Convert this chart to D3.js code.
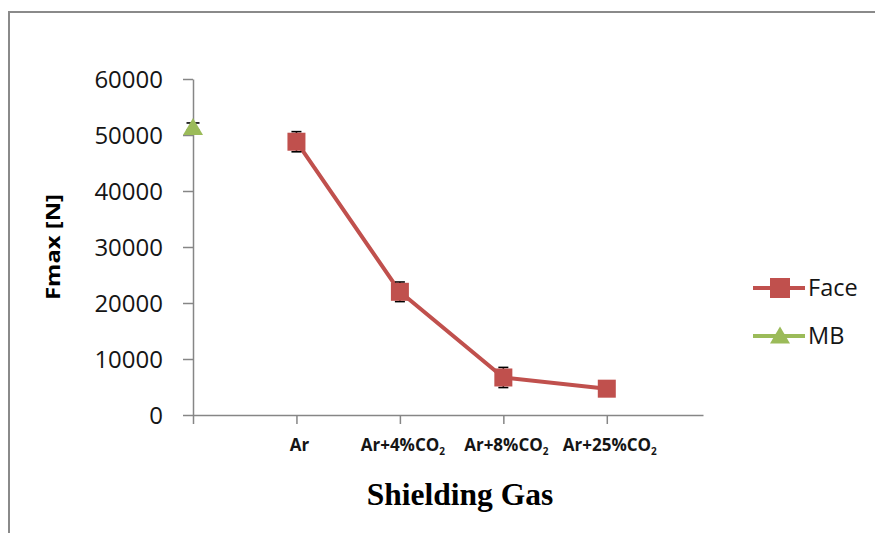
<!DOCTYPE html>
<html>
<head>
<meta charset="utf-8">
<script src="https://cdn.jsdelivr.net/npm/d3@7"></script>
<style>
  html, body { margin: 0; padding: 0; background: #fff; }
  svg { display: block; }
</style>
</head>
<body>
<svg id="chart" width="875" height="533"></svg>
<script>
// ---- data ----
const categories = ["Ar", "Ar+4%CO2", "Ar+8%CO2", "Ar+25%CO2"];
const faceValues = [48800, 22000, 6700, 4700];
const faceErrors = [1800, 1750, 1800, 0];
const mbValues = [51500];
const mbErrors = [650];
const yTicks = [0, 10000, 20000, 30000, 40000, 50000, 60000];
const seriesNames = ["Face", "MB"];
const colors = { Face: "#c0504d", MB: "#9bbb59" };

const svg = d3.select("#chart");

// frame
svg.append("rect")
  .attr("x", 9).attr("y", 12).attr("width", 900).attr("height", 600)
  .attr("fill", "none").attr("stroke", "#8a8a8a").attr("stroke-width", 2);

// scales: position 0 = MB (at the y axis), 1..4 = categories
const x = d3.scaleLinear().domain([0, 4.93]).range([193, 703]);
const y = d3.scaleLinear().domain([0, 60000]).range([415, 79]);

// y axis
const yAxis = svg.append("g").attr("transform", "translate(193,0)")
  .call(d3.axisLeft(y).tickValues(yTicks).tickSize(10).tickSizeOuter(0).tickPadding(20)
    .tickFormat(d3.format("d")));
yAxis.selectAll("path, line").attr("stroke", "#868686").attr("stroke-width", 1.5);
yAxis.selectAll("text")
  .attr("font-family", "'Open Sans', sans-serif").attr("font-size", 24)
  .attr("fill", "#151515").attr("dy", "0.35em");

// x axis
const xAxis = svg.append("g").attr("transform", "translate(0,415)")
  .call(d3.axisBottom(x).tickValues([0, 1, 2, 3, 4]).tickSize(9).tickSizeOuter(0)
    .tickFormat(""));
xAxis.selectAll("path, line").attr("stroke", "#868686").attr("stroke-width", 1.5);

// x category labels with subscript 2
categories.forEach((c, i) => {
  const t = svg.append("text")
    .attr("x", x(i + 1) + 3).attr("y", 451)
    .attr("text-anchor", "middle")
    .attr("font-family", "'Open Sans', sans-serif")
    .attr("font-weight", "bold").attr("font-size", 17).attr("fill", "#151515");
  const m = c.match(/^(.*CO)2$/);
  if (m) {
    t.append("tspan").text(m[1]);
    t.append("tspan").text("2").attr("font-size", 10).attr("dy", 4);
  } else {
    t.text(c);
  }
});

// y axis title
svg.append("text")
  .attr("transform", "translate(60,247) rotate(-90)")
  .attr("text-anchor", "middle")
  .attr("font-family", "'Open Sans', sans-serif").attr("font-weight", "bold")
  .attr("font-size", 20).attr("fill", "#000")
  .attr("textLength", 106).attr("lengthAdjust", "spacingAndGlyphs")
  .text("Fmax [N]");

// x axis title
svg.append("text")
  .attr("x", 460).attr("y", 505)
  .attr("text-anchor", "middle")
  .attr("font-family", "'Liberation Serif', 'Times New Roman', serif")
  .attr("font-weight", "bold").attr("font-size", 31.5).attr("fill", "#000")
  .text("Shielding Gas");

// Face line
const facePts = faceValues.map((v, i) => ({ x: i + 1, v, e: faceErrors[i] }));
svg.append("path")
  .datum(facePts)
  .attr("fill", "none").attr("stroke", colors.Face).attr("stroke-width", 4)
  .attr("stroke-linejoin", "round")
  .attr("d", d3.line().x(d => x(d.x)).y(d => y(d.v)));

// error bars (drawn under markers)
function errorBars(pts, half) {
  const g = svg.append("g").attr("stroke", "#000").attr("stroke-width", 1.6);
  pts.filter(d => d.e > 0).forEach(d => {
    const cx = x(d.x);
    g.append("line").attr("x1", cx).attr("x2", cx).attr("y1", y(d.v - d.e)).attr("y2", y(d.v + d.e));
    [d.v - d.e, d.v + d.e].forEach(val => {
      g.append("line").attr("x1", cx - half).attr("x2", cx + half).attr("y1", y(val)).attr("y2", y(val));
    });
  });
}
errorBars(facePts, 5);
const mbPts = mbValues.map((v, i) => ({ x: i, v, e: mbErrors[i] }));
errorBars(mbPts, 6.5);

// Face markers
svg.selectAll(".face-m").data(facePts).enter().append("rect")
  .attr("x", d => x(d.x) - 9).attr("y", d => y(d.v) - 9)
  .attr("width", 18).attr("height", 18)
  .attr("fill", colors.Face);

// triangle marker centred on its bounding box
const triPath = "M0,-8.5L10,8.5L-10,8.5Z";
svg.selectAll(".mb-m").data(mbPts).enter().append("path")
  .attr("transform", d => `translate(${x(d.x)},${y(d.v)})`)
  .attr("d", triPath).attr("fill", colors.MB);

// legend
const legY = [288, 336];
seriesNames.forEach((name, i) => {
  const g = svg.append("g").attr("transform", `translate(0,${legY[i]})`);
  g.append("line").attr("x1", 753).attr("x2", 805).attr("y1", 0).attr("y2", 0)
    .attr("stroke", colors[name]).attr("stroke-width", 4);
  if (name === "Face") {
    g.append("rect").attr("x", 770).attr("y", -10).attr("width", 20).attr("height", 20)
      .attr("fill", colors[name]);
  } else {
    g.append("path").attr("transform", "translate(780,-1)").attr("d", triPath).attr("fill", colors[name]);
  }
  g.append("text").attr("x", 808).attr("y", 0).attr("dy", "0.36em")
    .attr("font-family", "'Open Sans', sans-serif").attr("font-size", 23.5).attr("fill", "#151515")
    .text(name);
});
</script>
</body>
</html>
